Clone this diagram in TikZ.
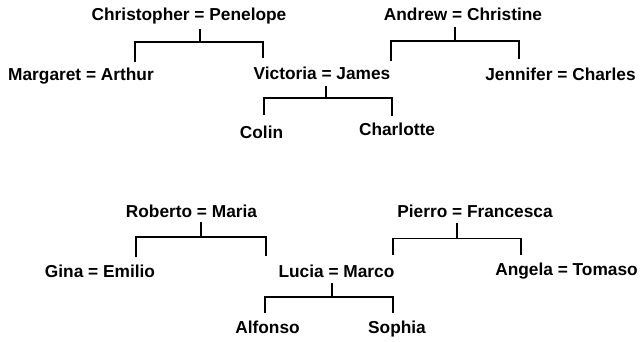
\documentclass[tikz,border=0pt]{standalone}
\usepackage{fontspec}
\setmainfont{Liberation Sans}
\begin{document}
\begin{tikzpicture}[x=1pt,y=-1pt,
  person/.style={font=\fontsize{17.3}{20}\selectfont\bfseries, inner sep=0pt, anchor=base},
  link/.style={line width=1.4pt, black}]
\useasboundingbox (0,0) rectangle (640,341);
% people
\node[person] (cp) at (189,20) {Christopher = Penelope};
\node[person] (ac) at (463,20) {Andrew = Christine};
\node[person] (ma) at (81,80) {Margaret = Arthur};
\node[person] (vj) at (322,79) {Victoria = James};
\node[person] (jc) at (560.5,80) {Jennifer = Charles};
\node[person] (colin) at (261.5,138.5) {Colin};
\node[person] (charlotte) at (397,135) {Charlotte};
\node[person] (rm) at (191.5,217) {Roberto = Maria};
\node[person] (pf) at (475,217) {Pierro = Francesca};
\node[person] (ge) at (100,277.5) {Gina = Emilio};
\node[person] (lm) at (336.5,277) {Lucia = Marco};
\node[person] (at) at (566.5,275.5) {Angela = Tomaso};
\node[person] (alfonso) at (267.5,333) {Alfonso};
\node[person] (sophia) at (397,333) {Sophia};
% junctions
\coordinate (j1) at (200,42);
\coordinate (j2) at (455,41);
\coordinate (j3) at (326,98);
\coordinate (j4) at (201,237);
\coordinate (j5) at (457,238.5);
\coordinate (j6) at (332,297);
% family 1
\draw[link] ([yshift=-9pt]cp.base -| j1) -- (j1);
\draw[link] ([yshift=5.4pt]ma.north -| 135,0) |- (j1) -| ([yshift=7.9pt]vj.north -| 263,0);
% family 2
\draw[link] ([yshift=-7pt]ac.base -| j2) -- (j2);
\draw[link] ([yshift=5.4pt]vj.north -| 391,0) |- (j2) -| ([yshift=8.4pt]jc.north -| 519,0);
% family 3
\draw[link] ([yshift=-7pt]vj.base -| j3) -- (j3);
\draw[link] ([yshift=10.9pt]colin.north -| 264,0) |- (j3) -| ([yshift=6.4pt]charlotte.north -| 392,0);
% family 4
\draw[link] ([yshift=-5pt]rm.base -| j4) -- (j4);
\draw[link] ([yshift=7.9pt]ge.north -| 136,0) |- (j4) -| ([yshift=8.4pt]lm.north -| 266,0);
% family 5
\draw[link] ([yshift=-6pt]pf.base -| j5) -- (j5);
\draw[link] ([yshift=9.4pt]lm.north -| 393,0) |- (j5) -| ([yshift=7.9pt]at.north -| 521,0);
% family 6
\draw[link] ([yshift=-6pt]lm.base -| j6) -- (j6);
\draw[link] ([yshift=7.4pt]alfonso.north -| 265,0) |- (j6) -| ([yshift=7.4pt]sophia.north -| 393,0);
\end{tikzpicture}
\end{document}
